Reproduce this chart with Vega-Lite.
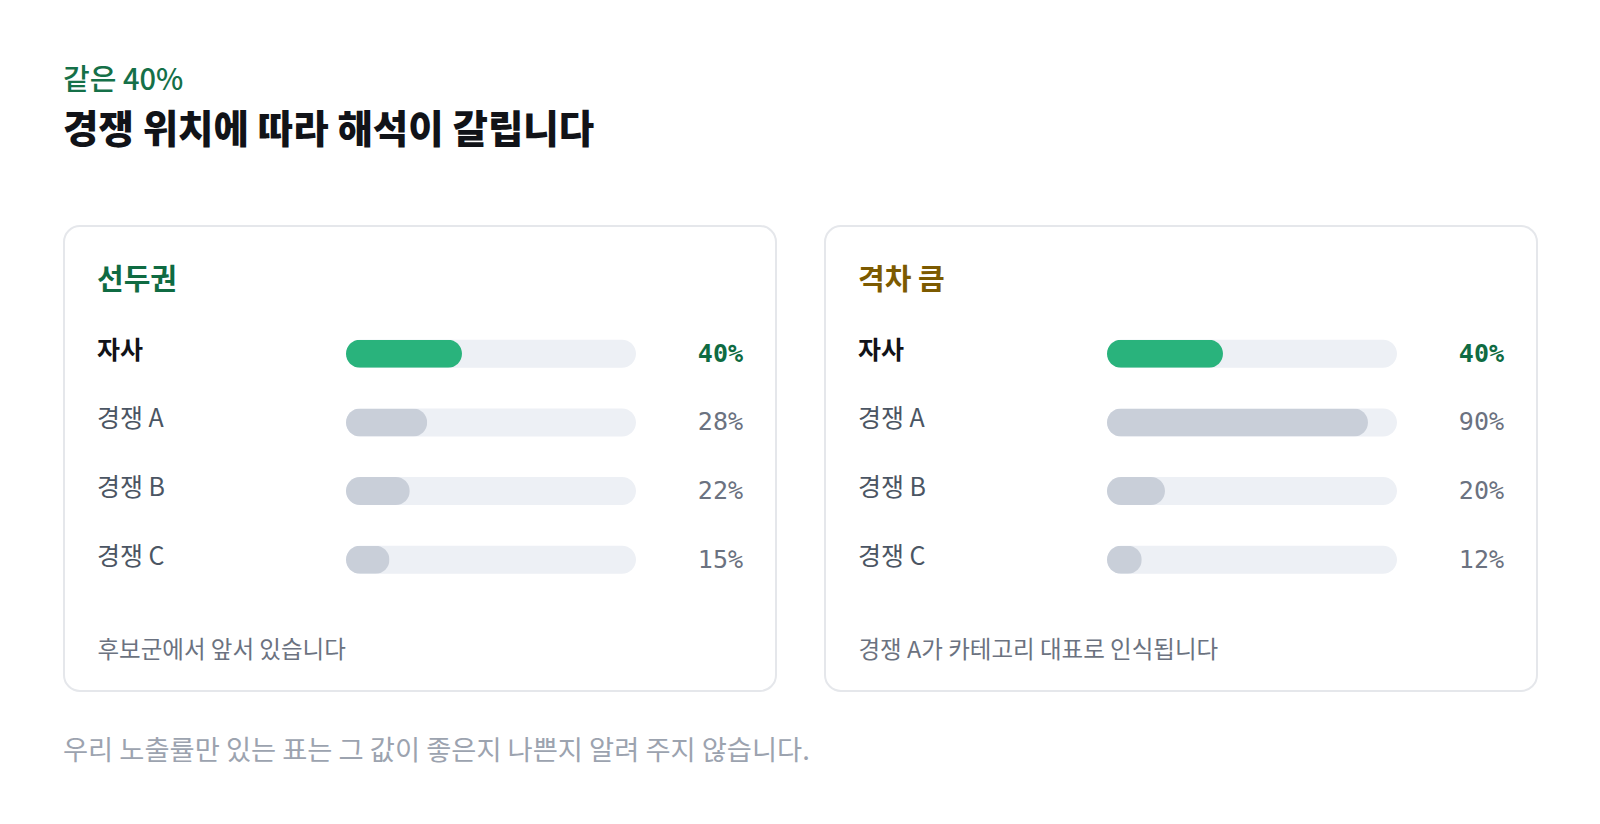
{
  "$schema": "https://vega.github.io/schema/vega-lite/v6.json",
  "background": "white",
  "padding": {"left": 63, "top": 66, "right": 60, "bottom": 20},
  "title": {
    "text": "같은 40%",
    "subtitle": "경쟁 위치에 따라 해석이 갈립니다",
    "anchor": "start",
    "font": "Noto Sans CJK KR",
    "fontSize": 29,
    "fontWeight": 500,
    "color": "#157048",
    "subtitleFont": "Noto Sans CJK KR",
    "subtitleFontSize": 38.5,
    "subtitleFontWeight": 900,
    "subtitleColor": "#111318",
    "subtitlePadding": 17,
    "offset": 75
  },
  "datasets": {
    "lead": [
      {"name": "자사", "value": 0.40},
      {"name": "경쟁 A", "value": 0.28},
      {"name": "경쟁 B", "value": 0.22},
      {"name": "경쟁 C", "value": 0.15}
    ],
    "gap": [
      {"name": "자사", "value": 0.40},
      {"name": "경쟁 A", "value": 0.90},
      {"name": "경쟁 B", "value": 0.20},
      {"name": "경쟁 C", "value": 0.12}
    ]
  },
  "vconcat": [
    {
      "title": {
        "text": "우리 노출률만 있는 표는 그 값이 좋은지 나쁜지 알려 주지 않습니다.",
        "orient": "bottom",
        "anchor": "start",
        "font": "Noto Sans CJK KR",
        "fontSize": 27.3,
        "fontWeight": "normal",
        "color": "#9ca3af",
        "offset": 46
      },
      "spacing": 47,
      "hconcat": [
        {
          "width": 712,
          "height": 465,
          "data": {"name": "lead"},
          "title": {"text": "선두권", "anchor": "start", "frame": "group", "color": "#0f6b42", "font": "Noto Sans CJK KR", "fontSize": 29, "fontWeight": "bold", "offset": -70, "dx": 33},
          "layer": [
            {
              "mark": {"type": "bar", "cornerRadius": 14, "color": "#edf0f5"},
              "encoding": {
                "y": {"field": "name", "type": "nominal", "sort": null, "scale": {"range": [45, 416.5], "paddingInner": 0.592, "paddingOuter": 1}, "axis": null},
                "x": {"datum": 1, "type": "quantitative", "scale": {"domain": [-0.9724, 1.4828], "nice": false, "zero": false}, "axis": {"title": "후보군에서 앞서 있습니다"}}
              }
            },
            {
              "mark": {"type": "bar", "cornerRadius": 14},
              "encoding": {
                "y": {"field": "name", "type": "nominal", "sort": null},
                "x": {"field": "value", "type": "quantitative", "axis": {"title": "후보군에서 앞서 있습니다"}},
                "color": {"condition": {"test": "datum.name === '자사'", "value": "#29b37c"}, "value": "#c9cfd9"}
              }
            },
            {
              "mark": {"type": "text", "align": "left", "baseline": "middle", "font": "Noto Sans CJK KR", "fontSize": 25, "dy": -3, "fontWeight": {"expr": "datum.name === '자사' ? 'bold' : 'normal'"}},
              "encoding": {
                "y": {"field": "name", "type": "nominal", "sort": null},
                "x": {"datum": -0.859, "type": "quantitative", "axis": {"title": "후보군에서 앞서 있습니다"}},
                "text": {"field": "name"},
                "color": {"condition": {"test": "datum.name === '자사'", "value": "#111318"}, "value": "#4b5563"}
              }
            },
            {
              "mark": {"type": "text", "align": "right", "baseline": "middle", "font": "DejaVu Sans Mono", "fontSize": 25, "fontWeight": {"expr": "datum.name === '자사' ? 'bold' : 'normal'"}},
              "encoding": {
                "y": {"field": "name", "type": "nominal", "sort": null},
                "x": {"datum": 1.369, "type": "quantitative", "axis": {"title": "후보군에서 앞서 있습니다"}},
                "text": {"field": "value", "type": "quantitative", "format": ".0%"},
                "color": {"condition": {"test": "datum.name === '자사'", "value": "#0f6b42"}, "value": "#6b7280"}
              }
            }
          ]
        },
        {
          "width": 712,
          "height": 465,
          "data": {"name": "gap"},
          "title": {"text": "격차 큼", "anchor": "start", "frame": "group", "color": "#7c5a00", "font": "Noto Sans CJK KR", "fontSize": 29, "fontWeight": "bold", "offset": -70, "dx": 33},
          "layer": [
            {
              "mark": {"type": "bar", "cornerRadius": 14, "color": "#edf0f5"},
              "encoding": {
                "y": {"field": "name", "type": "nominal", "sort": null, "scale": {"range": [45, 416.5], "paddingInner": 0.592, "paddingOuter": 1}, "axis": null},
                "x": {"datum": 1, "type": "quantitative", "scale": {"domain": [-0.9724, 1.4828], "nice": false, "zero": false}, "axis": {"title": "경쟁 A가 카테고리 대표로 인식됩니다"}}
              }
            },
            {
              "mark": {"type": "bar", "cornerRadius": 14},
              "encoding": {
                "y": {"field": "name", "type": "nominal", "sort": null},
                "x": {"field": "value", "type": "quantitative", "axis": {"title": "경쟁 A가 카테고리 대표로 인식됩니다"}},
                "color": {"condition": {"test": "datum.name === '자사'", "value": "#29b37c"}, "value": "#c9cfd9"}
              }
            },
            {
              "mark": {"type": "text", "align": "left", "baseline": "middle", "font": "Noto Sans CJK KR", "fontSize": 25, "dy": -3, "fontWeight": {"expr": "datum.name === '자사' ? 'bold' : 'normal'"}},
              "encoding": {
                "y": {"field": "name", "type": "nominal", "sort": null},
                "x": {"datum": -0.859, "type": "quantitative", "axis": {"title": "경쟁 A가 카테고리 대표로 인식됩니다"}},
                "text": {"field": "name"},
                "color": {"condition": {"test": "datum.name === '자사'", "value": "#111318"}, "value": "#4b5563"}
              }
            },
            {
              "mark": {"type": "text", "align": "right", "baseline": "middle", "font": "DejaVu Sans Mono", "fontSize": 25, "fontWeight": {"expr": "datum.name === '자사' ? 'bold' : 'normal'"}},
              "encoding": {
                "y": {"field": "name", "type": "nominal", "sort": null},
                "x": {"datum": 1.369, "type": "quantitative", "axis": {"title": "경쟁 A가 카테고리 대표로 인식됩니다"}},
                "text": {"field": "value", "type": "quantitative", "format": ".0%"},
                "color": {"condition": {"test": "datum.name === '자사'", "value": "#0f6b42"}, "value": "#6b7280"}
              }
            }
          ]
        }
      ]
    }
  ],
  "config": {
    "view": {"stroke": "#e5e7eb", "strokeWidth": 2, "cornerRadius": 16, "fill": "white"},
    "axisX": {
      "labels": false,
      "ticks": false,
      "domain": false,
      "grid": false,
      "titleAnchor": "start",
      "titleAlign": "left",
      "titleX": 33,
      "titleY": -41,
      "titleBaseline": "middle",
      "titleFont": "Noto Sans CJK KR",
      "titleFontSize": 23.5,
      "titleFontWeight": "normal",
      "titleColor": "#6b7280"
    }
  }
}
